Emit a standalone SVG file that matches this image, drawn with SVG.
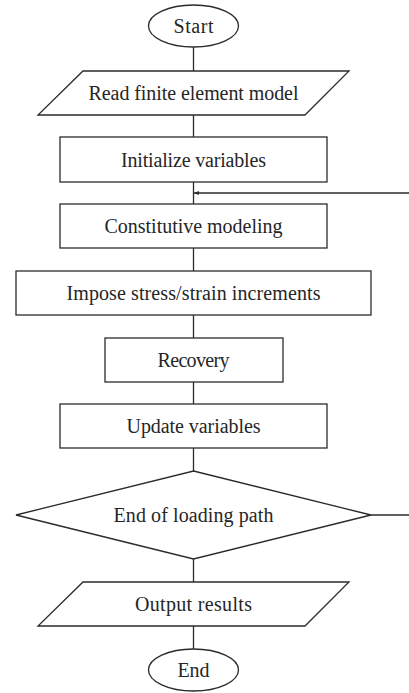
<svg xmlns="http://www.w3.org/2000/svg" width="409" height="693" viewBox="0 0 409 693">
  <style>
    .shape { fill: #ffffff; stroke: #2b2b2b; stroke-width: 1.3; }
    .wire { fill: none; stroke: #2b2b2b; stroke-width: 1.3; }
    .label { font-size: 20px; fill: #262626; text-anchor: middle; }
  </style>
  <defs>
    <marker id="head" viewBox="0 0 10 10" refX="10" refY="5" markerWidth="5" markerHeight="5" orient="auto" markerUnits="userSpaceOnUse">
      <path d="M0,1 L10,5 L0,9 z" fill="#2b2b2b"/>
    </marker>
  </defs>
  <rect width="409" height="693" fill="#ffffff"/>

  <!-- connectors -->
  <g id="connectors">
    <line class="wire" x1="193.5" y1="47" x2="193.5" y2="71"/>
    <line class="wire" x1="193.5" y1="115" x2="193.5" y2="137"/>
    <line class="wire" x1="193.5" y1="182" x2="193.5" y2="204"/>
    <line class="wire" x1="193.5" y1="248" x2="193.5" y2="271"/>
    <line class="wire" x1="193.5" y1="315" x2="193.5" y2="338"/>
    <line class="wire" x1="193.5" y1="382" x2="193.5" y2="404"/>
    <line class="wire" x1="193.5" y1="448" x2="193.5" y2="471"/>
    <line class="wire" x1="193.5" y1="559" x2="193.5" y2="582"/>
    <line class="wire" x1="193.5" y1="626" x2="193.5" y2="649"/>
    <!-- loop back from the decision -->
    <line class="wire" x1="371" y1="515" x2="409" y2="515"/>
    <line class="wire" x1="409" y1="193" x2="194" y2="193" marker-end="url(#head)"/>
  </g>

  <g id="nodes" font-family="Liberation Serif, Times New Roman, serif">
    <g id="start">
      <ellipse class="shape" cx="193.5" cy="26" rx="45" ry="21"/>
      <text class="label" x="193.5" y="32.5" textLength="40" lengthAdjust="spacing">Start</text>
    </g>

    <g id="read-model">
      <polygon class="shape" points="83,71 349,71 305,115 38,115"/>
      <text class="label" x="193.5" y="100" textLength="210" lengthAdjust="spacing">Read finite element model</text>
    </g>

    <g id="initialize">
      <rect class="shape" x="60" y="137" width="267" height="45"/>
      <text class="label" x="193.5" y="166.5" textLength="145" lengthAdjust="spacing">Initialize variables</text>
    </g>

    <g id="constitutive">
      <rect class="shape" x="60" y="204" width="267" height="44"/>
      <text class="label" x="193.5" y="232.5" textLength="178" lengthAdjust="spacing">Constitutive modeling</text>
    </g>

    <g id="impose">
      <rect class="shape" x="16" y="271" width="355" height="44"/>
      <text class="label" x="193.5" y="299.5" textLength="254" lengthAdjust="spacing">Impose stress/strain increments</text>
    </g>

    <g id="recovery">
      <rect class="shape" x="105" y="338" width="178" height="44"/>
      <text class="label" x="193.5" y="366.5" textLength="72" lengthAdjust="spacing">Recovery</text>
    </g>

    <g id="update">
      <rect class="shape" x="60" y="404" width="267" height="44"/>
      <text class="label" x="193.5" y="432.5" textLength="134" lengthAdjust="spacing">Update variables</text>
    </g>

    <g id="end-of-path">
      <polygon class="shape" points="193.5,471 371,515 193.5,559 16,515"/>
      <text class="label" x="193.5" y="521.5" textLength="160" lengthAdjust="spacing">End of loading path</text>
    </g>

    <g id="output">
      <polygon class="shape" points="83,582 349,582 305,626 38,626"/>
      <text class="label" x="193.5" y="610.5" textLength="117" lengthAdjust="spacing">Output results</text>
    </g>

    <g id="end">
      <ellipse class="shape" cx="193.5" cy="670" rx="45" ry="21"/>
      <text class="label" x="193.5" y="676.5" textLength="32" lengthAdjust="spacing">End</text>
    </g>
  </g>
</svg>
